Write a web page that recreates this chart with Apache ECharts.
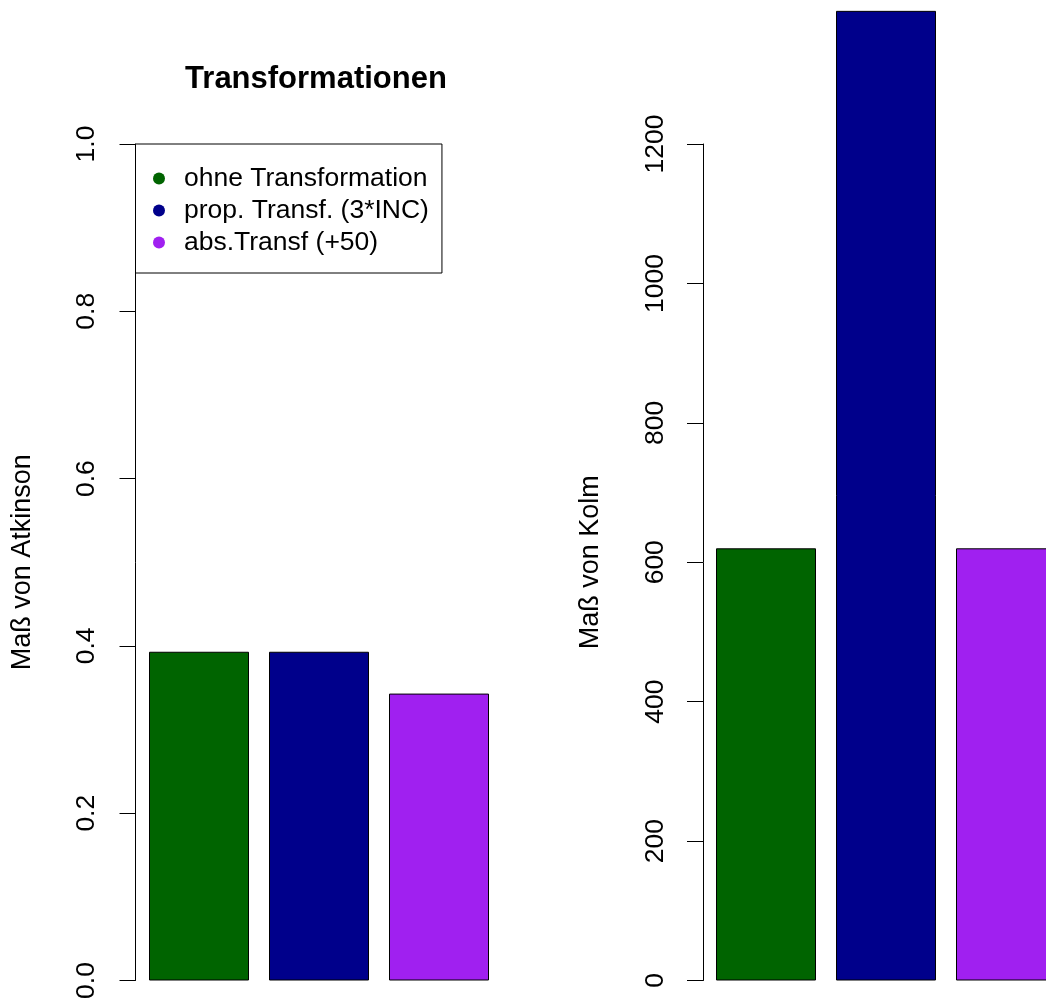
<!DOCTYPE html>
<html>
<head>
<meta charset="utf-8">
<script src="https://cdn.jsdelivr.net/npm/echarts@6/dist/echarts.min.js"></script>
<style>
html,body{margin:0;padding:0;background:#fff;}
#chart{width:1046px;height:999px;}
</style>
</head>
<body>
<div id="chart"></div>
<script>
const categories = ['ohne Transformation', 'prop. Transf. (3*INC)', 'abs.Transf (+50)'];
const atkinson = [0.393, 0.393, 0.343];
const kolm = [620, 1391, 620];
const colors = ['#006400', '#00008B', '#A020F0'];

const FONT = '"Liberation Sans", Arial, Helvetica, sans-serif';
const chart = echarts.init(document.getElementById('chart'), null, {renderer: 'canvas'});

function makeSeries(values, axisIndex) {
  return categories.map((name, i) => ({
    name: name,
    type: 'bar',
    xAxisIndex: axisIndex,
    yAxisIndex: axisIndex,
    stack: 'p' + axisIndex,
    barWidth: 100,
    clip: false,
    itemStyle: {color: colors[i], borderColor: '#000', borderWidth: 1},
    emphasis: {disabled: true},
    data: categories.map((c, j) => j === i ? values[j] : '-')
  }));
}

const yAxisCommon = {
  type: 'value',
  min: 0,
  splitLine: {show: false},
  axisLine: {show: true, lineStyle: {color: '#000', width: 1}},
  axisTick: {show: true, inside: false, length: 16, lineStyle: {color: '#000', width: 1}},
  nameLocation: 'middle',
  nameRotate: 90,
  nameGap: 99,
  nameTextStyle: {fontFamily: FONT, fontSize: 27, color: '#000'}
};

chart.setOption({
  animation: false,
  backgroundColor: '#fff',
  textStyle: {fontFamily: FONT},
  title: {
    text: 'Transformationen',
    left: 316,
    top: 64,
    textAlign: 'center',
    padding: 0,
    textStyle: {fontFamily: FONT, fontSize: 31, fontWeight: 'bold', color: '#000'}
  },
  legend: {
    data: categories,
    orient: 'vertical',
    left: 135.5,
    top: 144,
    icon: 'circle',
    itemWidth: 40,
    itemHeight: 12,
    itemGap: 5,
    padding: [21, 13, 17, 17.5],
    borderColor: '#000',
    borderWidth: 1,
    backgroundColor: '#fff',
    selectedMode: false,
    itemStyle: {borderWidth: 0},
    textStyle: {fontFamily: FONT, fontSize: 26.5, color: '#000', padding: 0}
  },
  grid: [
    {left: 139, width: 360, top: 144, bottom: 18.5, containLabel: false, outerBoundsMode: 'none'},
    {left: 706, width: 360, top: 144, bottom: 18.5, containLabel: false, outerBoundsMode: 'none'}
  ],
  xAxis: [
    {type: 'category', gridIndex: 0, data: categories, show: false},
    {type: 'category', gridIndex: 1, data: categories, show: false}
  ],
  yAxis: [
    Object.assign({}, yAxisCommon, {
      gridIndex: 0, max: 1, interval: 0.2, offset: 3.5,
      name: 'Maß von Atkinson',
      axisLabel: {rotate: 90, margin: 35, fontFamily: FONT, fontSize: 26.5, color: '#000',
        formatter: v => v.toFixed(1)}
    }),
    Object.assign({}, yAxisCommon, {
      gridIndex: 1, max: 1200, interval: 200, offset: 3,
      name: 'Maß von Kolm',
      axisLabel: {rotate: 90, margin: 34, fontFamily: FONT, fontSize: 26.5, color: '#000',
        formatter: v => String(v)}
    })
  ],
  series: makeSeries(atkinson, 0).concat(makeSeries(kolm, 1))
});
</script>
</body>
</html>
